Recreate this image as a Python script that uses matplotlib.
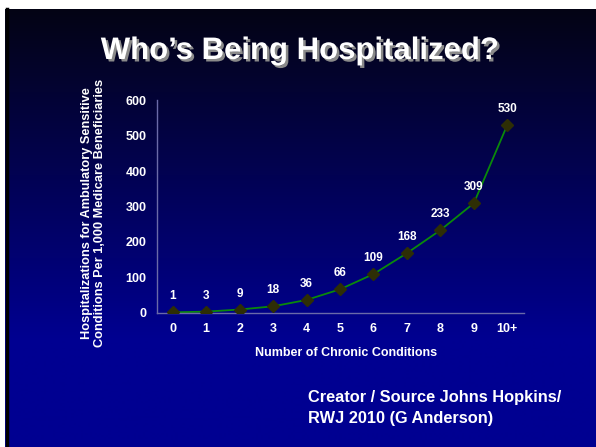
#!/usr/bin/env python3
"""Who's Being Hospitalized? -- ACSC hospitalizations by number of chronic conditions."""
import numpy as np, matplotlib
matplotlib.use("Agg"); import matplotlib.pyplot as plt
import matplotlib.patheffects as pe

plt.rcParams["font.family"] = ["Liberation Sans", "DejaVu Sans"]
plt.rcParams["font.weight"] = "bold"

categories = ["0", "1", "2", "3", "4", "5", "6", "7", "8", "9", "10+"]
rates = [1, 3, 9, 18, 36, 66, 109, 168, 233, 309, 530]
yticks = [0, 100, 200, 300, 400, 500, 600]

W, H = 596, 447
fig = plt.figure(figsize=(W / 100, H / 100), dpi=100, facecolor="white")

# slide background: black -> blue vertical gradient, white margin top/left
bg = fig.add_axes([0, 0, 1, 1]); bg.set_axis_off()
bg.set_xlim(0, W); bg.set_ylim(H, 0)
rows = np.arange(9, H)
t = np.clip((rows - 9) / 330.0, 0, 1)
top = np.array([4, 4, 20]) / 255; bot = np.array([0, 0, 145]) / 255
grad = (top[None, :] * (1 - t[:, None]) + bot[None, :] * t[:, None])[:, None, :]
bg.imshow(grad, extent=[5, W + 1, H + 1, 9], aspect="auto", interpolation="bilinear")
bg.plot([6.5, 6.5], [9, H], color="black", lw=2.5)

ax = fig.add_axes([157 / W, 1 - 312.7 / H, 367 / W, 212.5 / H])
ax.set_facecolor("none")
x = np.arange(len(categories))
ax.plot(x, rates, "-", color="#0a8a0a", lw=1.3, zorder=2)
ax.plot(x, rates, "D", color="#2e2e05", ms=6, zorder=3)
for xi, v in zip(x, rates):
    ax.annotate(str(v), (xi, v), xytext=(0, 11.5), textcoords="offset points",
                ha="center", va="center", color="white", fontsize=8.5, fontweight="bold")

ax.set_xlim(-0.47, 10.5); ax.set_ylim(0, 600)
ax.set_xticks(x); ax.set_xticklabels(categories)
ax.set_yticks(yticks)
ax.tick_params(length=0, colors="white", labelsize=9, pad=7.5)
for lab in ax.get_xticklabels() + ax.get_yticklabels():
    lab.set_fontweight("bold")
for s in ["top", "right"]:
    ax.spines[s].set_visible(False)
for s in ["left", "bottom"]:
    ax.spines[s].set_color("#6a6aa8"); ax.spines[s].set_linewidth(1.0)

fig.text(0.503, 1 - 59 / H, "Who\u2019s Being Hospitalized?", ha="center", va="baseline",
         color="white", fontsize=22.4, fontweight="bold",
         path_effects=[pe.SimplePatchShadow(offset=(1.8, -1.8), shadow_rgbFace="#8a8a8a", alpha=1),
                       pe.Normal()])
fig.text(93.5 / W, 1 - 213 / H,
         "Hospitalizations for Ambulatory Sensitive\nConditions Per 1,000 Medicare Beneficiaries",
         rotation=90, ha="center", va="center", multialignment="center",
         color="white", fontsize=9.2, fontweight="bold", linespacing=1.15)
fig.text(346 / W, 1 - 353 / H, "Number of Chronic Conditions", ha="center", va="center",
         color="white", fontsize=9, fontweight="bold")
fig.text(308 / W, 1 - 408 / H, "Creator / Source Johns Hopkins/\nRWJ 2010 (G Anderson)",
         ha="left", va="center", color="white", fontsize=11.8, fontweight="bold", linespacing=1.45)

fig.savefig("out.png", dpi=100, facecolor="white")
